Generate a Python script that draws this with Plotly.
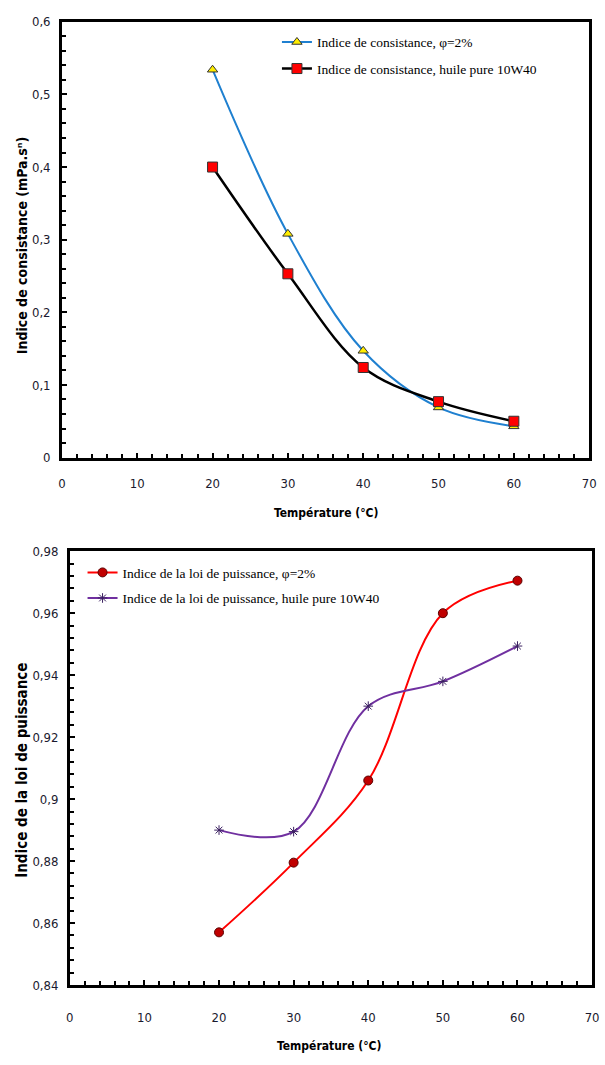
import plotly.graph_objects as go

# ---- data ----
temps = [20, 30, 40, 50, 60]
k_phi2 = [0.534, 0.308, 0.147, 0.069, 0.043]
k_pure = [0.400, 0.253, 0.124, 0.077, 0.050]
n_phi2 = [0.857, 0.8795, 0.906, 0.960, 0.9705]
n_pure = [0.890, 0.8895, 0.930, 0.938, 0.9494]

x_ticks = [0, 10, 20, 30, 40, 50, 60, 70]
x_ticktext = ["0", "10", "20", "30", "40", "50", "60", "70"]
y1_ticks = [0, 0.1, 0.2, 0.3, 0.4, 0.5, 0.6]
y1_ticktext = ["0", "0,1", "0,2", "0,3", "0,4", "0,5", "0,6"]
y2_ticks = [0.84, 0.86, 0.88, 0.90, 0.92, 0.94, 0.96, 0.98]
y2_ticktext = ["0,84", "0,86", "0,88", "0,9", "0,92", "0,94", "0,96", "0,98"]

name_k_phi2 = "Indice de consistance, φ=2%"
name_k_pure = "Indice de consistance, huile pure 10W40"
name_n_phi2 = "Indice de la loi de puissance, φ=2%"
name_n_pure = "Indice de la loi de puissance, huile pure 10W40"

W, H = 605, 1065
NARROW = "Liberation Sans Narrow, DejaVu Sans Condensed, Arial Narrow, sans-serif"
TICKFONT = dict(family=NARROW, size=13, color="#1a1a2e")
XTITLEFONT = dict(family=NARROW, size=12, color="#000000")
YTITLEFONT = dict(family=NARROW, size=14, color="#000000")
YTITLEFONT2 = dict(family=NARROW, size=15, color="#000000")
LEGFONT = dict(family="Liberation Serif, Times New Roman, serif", size=13.5, color="#000000")

fig = go.Figure()

fig.add_trace(go.Scatter(
    x=temps, y=k_phi2, name=name_k_phi2, mode="lines+markers",
    line=dict(color="#1f80d0", width=2, shape="spline", smoothing=1.0),
    marker=dict(symbol="triangle-up", size=9, color="#ffee00", line=dict(color="#333333", width=1)),
    xaxis="x", yaxis="y", legend="legend", legendgroup="a"))
fig.add_trace(go.Scatter(
    x=temps, y=k_pure, name=name_k_pure, mode="lines+markers",
    line=dict(color="#000000", width=2.5, shape="spline", smoothing=1.0),
    marker=dict(symbol="square", size=10, color="#ff0000", line=dict(color="#333333", width=1)),
    xaxis="x", yaxis="y", legend="legend", legendgroup="b"))

fig.add_trace(go.Scatter(
    x=temps, y=n_phi2, name=name_n_phi2, mode="lines+markers",
    line=dict(color="#ff0000", width=2, shape="spline", smoothing=1.0),
    marker=dict(symbol="circle", size=9, color="#c00000", line=dict(color="#5a0000", width=1)),
    xaxis="x2", yaxis="y2", legend="legend2", legendgroup="c"))
fig.add_trace(go.Scatter(
    x=temps, y=n_pure, name=name_n_pure, mode="lines+markers",
    line=dict(color="#7030a0", width=2, shape="spline", smoothing=1.0),
    marker=dict(symbol="asterisk-open", size=8, color="#3a2060", line=dict(color="#3a2060", width=1)),
    xaxis="x2", yaxis="y2", legend="legend2", legendgroup="d"))

def px_x(p):
    return p / W

def px_y(p):
    return 1 - p / H

common_x = dict(range=[0, 70], tickvals=x_ticks, ticktext=x_ticktext, ticks="inside", ticklen=5,
                tickwidth=1.5, tickcolor="black", showline=True, linecolor="black", linewidth=2.5,
                mirror=True, showgrid=False, zeroline=False, tickfont=TICKFONT,
                minor=dict(dtick=2, ticks="inside", ticklen=4, tickcolor="black", tickwidth=1.5))
common_y = dict(ticks="inside", ticklen=5, tickwidth=1.5, tickcolor="black", showline=True,
                linecolor="black", linewidth=2.5, mirror=True, showgrid=False, zeroline=False,
                tickfont=TICKFONT, ticklabelstandoff=6)

fig.update_layout(
    width=W, height=H, margin=dict(l=0, r=0, t=0, b=0),
    paper_bgcolor="white", plot_bgcolor="white",
    xaxis=dict(domain=[px_x(59), px_x(596)], anchor="y", ticklabelstandoff=12, **common_x),
    yaxis=dict(domain=[px_y(457), px_y(15)], anchor="x", range=[0, 0.6],
               tickvals=y1_ticks, ticktext=y1_ticktext,
               minor=dict(dtick=0.02, ticks="inside", ticklen=4, tickcolor="black", tickwidth=1.5),
               **common_y),
    xaxis2=dict(domain=[px_x(67), px_x(599)], anchor="y2", ticklabelstandoff=19, **common_x),
    yaxis2=dict(domain=[px_y(992), px_y(552)], anchor="x2", range=[0.84, 0.98],
                tickvals=y2_ticks, ticktext=y2_ticktext,
                minor=dict(dtick=0.004, ticks="inside", ticklen=4, tickcolor="black", tickwidth=1.5),
                **common_y),
    showlegend=True,
    legend=dict(x=px_x(278), y=px_y(20), xanchor="left", yanchor="top", font=LEGFONT,
                bgcolor="rgba(0,0,0,0)", itemwidth=30, tracegroupgap=6, traceorder="grouped"),
    legend2=dict(x=px_x(80), y=px_y(558), xanchor="left", yanchor="top", font=LEGFONT,
                 bgcolor="rgba(0,0,0,0)", itemwidth=30, tracegroupgap=5, traceorder="grouped"),
    annotations=[
        dict(text="<b>Température (°C)</b>", x=px_x(328), y=px_y(513), xref="paper", yref="paper",
             showarrow=False, font=XTITLEFONT, xanchor="center", yanchor="middle"),
        dict(text="<b>Indice de consistance (mPa.sⁿ)</b>", x=px_x(18), y=px_y(242), xref="paper",
             yref="paper", showarrow=False, font=YTITLEFONT, textangle=-90,
             xanchor="center", yanchor="middle"),
        dict(text="<b>Température (°C)</b>", x=px_x(332), y=px_y(1054), xref="paper", yref="paper",
             showarrow=False, font=XTITLEFONT, xanchor="center", yanchor="middle"),
        dict(text="<b>Indice de la loi de puissance</b>", x=px_x(18), y=px_y(774), xref="paper",
             yref="paper", showarrow=False, font=YTITLEFONT2, textangle=-90,
             xanchor="center", yanchor="middle"),
    ],
)

fig.write_html("out.html")
